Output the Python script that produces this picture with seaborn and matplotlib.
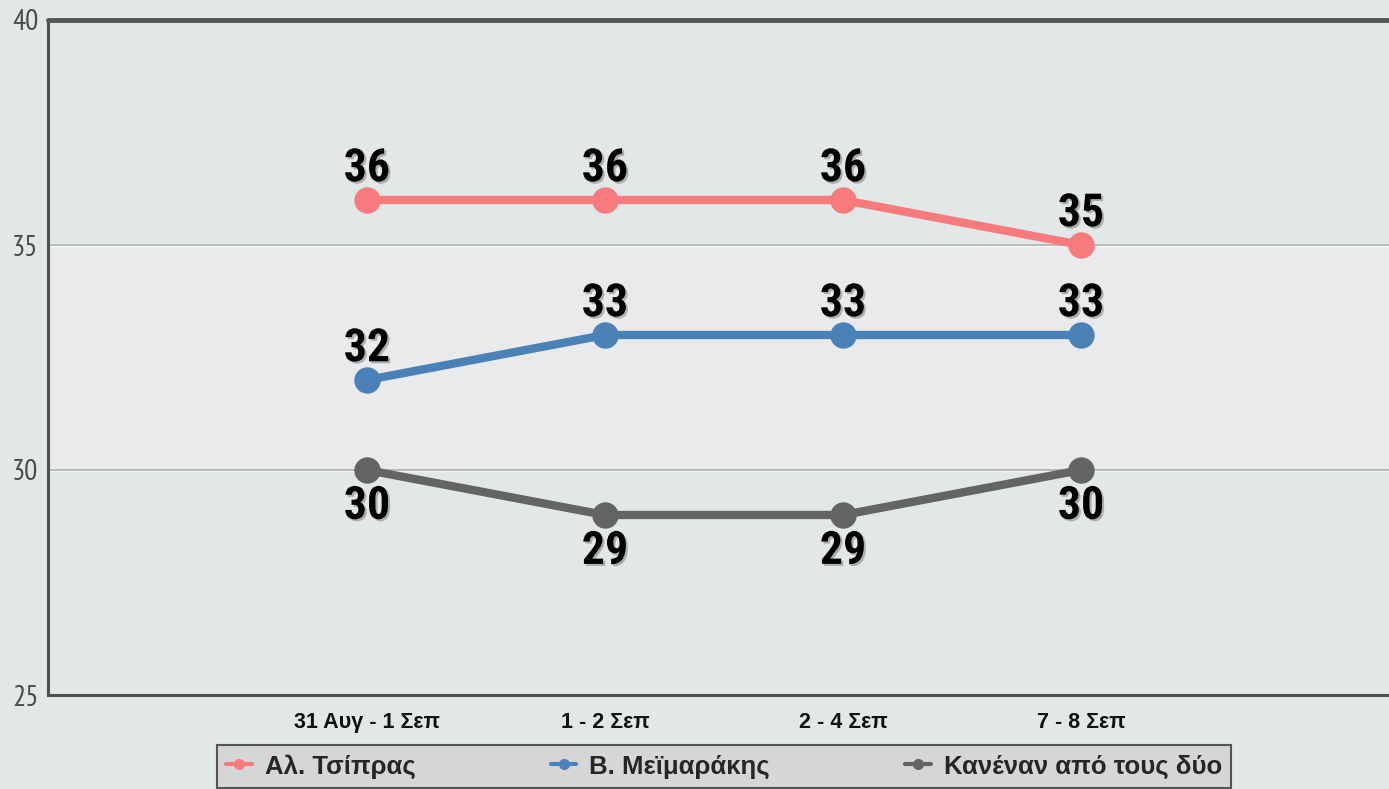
import matplotlib
matplotlib.use("Agg")
import matplotlib.pyplot as plt
import matplotlib.patheffects as pe
from matplotlib.lines import Line2D
import seaborn as sns
import pandas as pd

categories = ["31 Αυγ - 1 Σεπ", "1 - 2 Σεπ", "2 - 4 Σεπ", "7 - 8 Σεπ"]
series_names = ["Αλ. Τσίπρας", "Β. Μεϊμαράκης", "Κανέναν από τους δύο"]
tsipras = [36, 36, 36, 35]
meimarakis = [32, 33, 33, 33]
kanenan = [30, 29, 29, 30]
yticks = [25, 30, 35, 40]

colors = ["#f77b7c", "#4a82b8", "#646464"]
label_pos = ["above", "above", "below"]

rows = []
for name, vals in zip(series_names, [tsipras, meimarakis, kanenan]):
    for i, v in enumerate(vals):
        rows.append({"x": i, "value": v, "series": name})
df = pd.DataFrame(rows)

sns.set_theme(style="white")
LABELFONT = ["Roboto Condensed", "Pragati Narrow", "PT Sans Narrow", "DejaVu Sans"]
NARROW = ["PT Sans Narrow", "DejaVu Sans"]
plt.rcParams["font.family"] = ["Liberation Sans", "DejaVu Sans"]

BG = "#e2e7e7"
fig = plt.figure(figsize=(13.89, 7.89), dpi=100, facecolor=BG)
ax = fig.add_axes([48 / 1389, 1 - 695 / 789, 1 - 48 / 1389, (695 - 20) / 789])
ax.set_facecolor(BG)

# light band between 30 and 35
ax.axhspan(30, 35, color="#e9eaec", zorder=0, lw=0)
for yv in [30, 35]:
    ax.axhline(yv, color="#ffffff", lw=2.5, zorder=0.5, alpha=0.6)
    ax.axhline(yv, color="#adb0b1", lw=1.2, zorder=1)

sns.lineplot(data=df, x="x", y="value", hue="series", hue_order=series_names,
             palette=colors, marker="o", markersize=19, markeredgewidth=0,
             linewidth=6, legend=False, ax=ax, zorder=3)

for name, vals, c, pos in zip(series_names, [tsipras, meimarakis, kanenan], colors, label_pos):
    for i, v in enumerate(vals):
        if pos == "above":
            off, va = 7, "bottom"
        else:
            off, va = -10, "top"
        ax.annotate(str(v), (i, v), xytext=(0, off), textcoords="offset points",
                    ha="center", va=va, fontsize=33, fontweight="bold",
                    family=LABELFONT, color="#000000", zorder=5,
                    path_effects=[pe.withSimplePatchShadow(offset=(1.5, -1.5),
                                                           shadow_rgbFace="#777777", alpha=0.5)])

ax.set_xlim(-1.340, 4.294)
ax.set_ylim(25, 40)
ax.set_xticks(range(len(categories)))
ax.set_xticklabels(categories, fontsize=15.5, fontweight="bold", color="#111111")
ax.set_yticks(yticks)
ax.set_yticklabels([str(t) for t in yticks], fontsize=21, color="#4a4a4a", family=NARROW)
ax.tick_params(axis="x", length=0, pad=12)
ax.tick_params(axis="y", length=0, pad=7)
ax.set_xlabel("")
ax.set_ylabel("")

for side in ["top", "right"]:
    ax.spines[side].set_visible(False)
ax.spines["left"].set_color("#505050")
ax.spines["left"].set_linewidth(2.2)
ax.spines["bottom"].set_color("#505050")
ax.spines["bottom"].set_linewidth(2.2)
ax.axhline(40, color="#555555", lw=3.5, zorder=6, clip_on=False)

handles = [Line2D([0], [0], color=c, lw=3, marker="o", markersize=8, markeredgewidth=0)
           for c in colors]
leg = fig.legend(handles, series_names, ncol=3, mode="expand",
                 bbox_to_anchor=(217 / 1389, 1 - 805 / 789, (1231 - 217) / 1389, 60 / 789),
                 loc="upper left", frameon=True, fancybox=False,
                 prop={"size": 18.5, "weight": "bold"}, handlelength=1.0,
                 handletextpad=0.5, borderpad=0.35, borderaxespad=0)
leg.get_frame().set_facecolor("#d6d6d6")
leg.get_frame().set_edgecolor("#555555")
leg.get_frame().set_linewidth(1.5)
leg.get_frame().set_alpha(1)

fig.savefig("out.png", dpi=100, facecolor=BG)
